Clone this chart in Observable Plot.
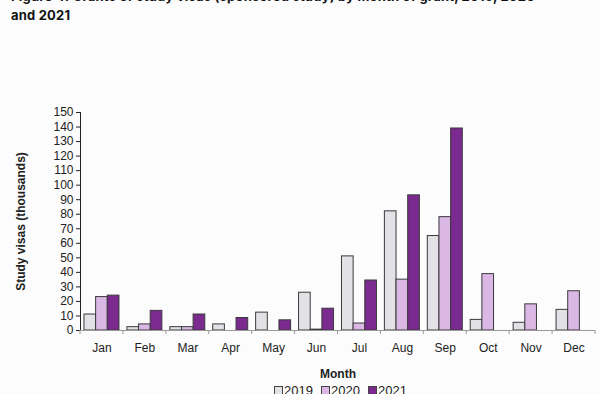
<!DOCTYPE html>
<html>
<head>
<meta charset="utf-8">
<script src="https://cdn.jsdelivr.net/npm/d3@7"></script>
<script src="https://cdn.jsdelivr.net/npm/@observablehq/plot@0.6"></script>
<style>
  html, body { margin: 0; padding: 0; background: #fcfcfc; }
  #wrap { position: relative; width: 600px; height: 394px; overflow: hidden; font-family: "Liberation Sans", Arial, sans-serif; }
  #title { height: 40px; overflow: hidden; }
  #title div { margin-top: -13px; margin-left: 11px; font-family: Inter, "Liberation Sans", Arial, sans-serif; font-weight: 700; font-size: 13px; line-height: 19px; letter-spacing: 0.2px; color: #111; }
  #legend { position: absolute; left: 83px; width: 515px; top: 384px; text-align: center; font-size: 13px; line-height: 13px; color: #222; }
  #legend span.item { margin: 0 4px; white-space: nowrap; }
  #legend span.sw { display: inline-block; width: 7px; height: 7px; border: 1px solid #444; margin-right: 1px; vertical-align: 0px; }
  svg [aria-label$="axis label"] text, svg [aria-label$="axis label"] { font-weight: bold; }
</style>
</head>
<body>
<div id="wrap">
  <div id="title"><div>Figure 4: Grants of study visas (sponsored study) by month of grant, 2019, 2020<br>and 2021</div></div>
  <div id="chart"></div>
  <div id="legend"></div>
</div>
<script>
const months = ["Jan","Feb","Mar","Apr","May","Jun","Jul","Aug","Sep","Oct","Nov","Dec"];
const years = ["2019","2020","2021"];
const v2019 = [11, 2.3, 2.3, 4.2, 12.3, 26, 51, 82, 65, 7.3, 5.3, 14.2];
const v2020 = [23, 4.2, 2.3, null, null, 0.6, 4.8, 35, 78, 38.8, 18, 27];
const v2021 = [24, 13.5, 11, 8.6, 7, 15, 34.4, 93, 139, null, null, null];
const yTicks = [0,10,20,30,40,50,60,70,80,90,100,110,120,130,140,150];
const colors = ["#e2e2e6", "#dbb7e6", "#7b2a8f"];
const yLabel = "Study visas (thousands)";

const series = [v2019, v2020, v2021];
const data = [];
months.forEach((m, i) => years.forEach((y, j) => {
  const v = series[j][i];
  if (v != null) data.push({month: m, year: y, value: v});
}));

const plot = Plot.plot({
  width: 600,
  height: 354,
  marginLeft: 80,
  marginRight: 5,
  marginTop: 72,
  marginBottom: 64,
  style: {fontFamily: "'Liberation Sans', Arial, sans-serif", fontSize: "12px", color: "#222", background: "transparent"},
  facet: {data, x: "month"},
  fx: {domain: months, padding: 0, round: false, axis: "bottom", tickSize: 0, tickPadding: 13, label: "Month", labelOffset: 47},
  x: {domain: years, paddingInner: 0, paddingOuter: 0.34, round: false, axis: null},
  y: {domain: [0, 150], ticks: yTicks, tickSize: 4, tickPadding: 3, label: yLabel, labelAnchor: "center", labelOffset: 64, labelArrow: false, line: true},
  color: {domain: years, range: colors},
  marks: [
    Plot.barY(data, {x: "year", y: "value", fill: "year", stroke: "#3a3a3a", strokeWidth: 1}),
    Plot.ruleY([0], {stroke: "#999"})
  ]
});
document.getElementById("chart").appendChild(plot);

// strip label arrow if the library added one
d3.select(plot).selectAll("text").each(function() {
  if (this.textContent.includes("↑") && this.textContent.includes("Study")) {
    const t = this.querySelector("tspan") || this;
    t.textContent = yLabel;
  }
});

// boundary tick marks on the category axis
const fxs = plot.scale("fx");
const ys = plot.scale("y");
const yScale = d3.scaleLinear().domain(ys.domain).range(ys.range);
const x0 = Math.min(...fxs.range), x1 = Math.max(...fxs.range);
const step = (x1 - x0) / months.length;
const y0 = yScale(0);
d3.select(plot).append("g").attr("stroke", "#999")
  .selectAll("line").data(d3.range(months.length + 1)).join("line")
  .attr("x1", i => x0 + i * step).attr("x2", i => x0 + i * step)
  .attr("y1", y0).attr("y2", y0 + 4);

// legend
const lg = document.getElementById("legend");
years.forEach((y, j) => {
  const s = document.createElement("span");
  s.className = "item";
  s.innerHTML = `<span class="sw" style="background:${colors[j]}"></span>${y}`;
  lg.appendChild(s);
});
</script>
</body>
</html>
